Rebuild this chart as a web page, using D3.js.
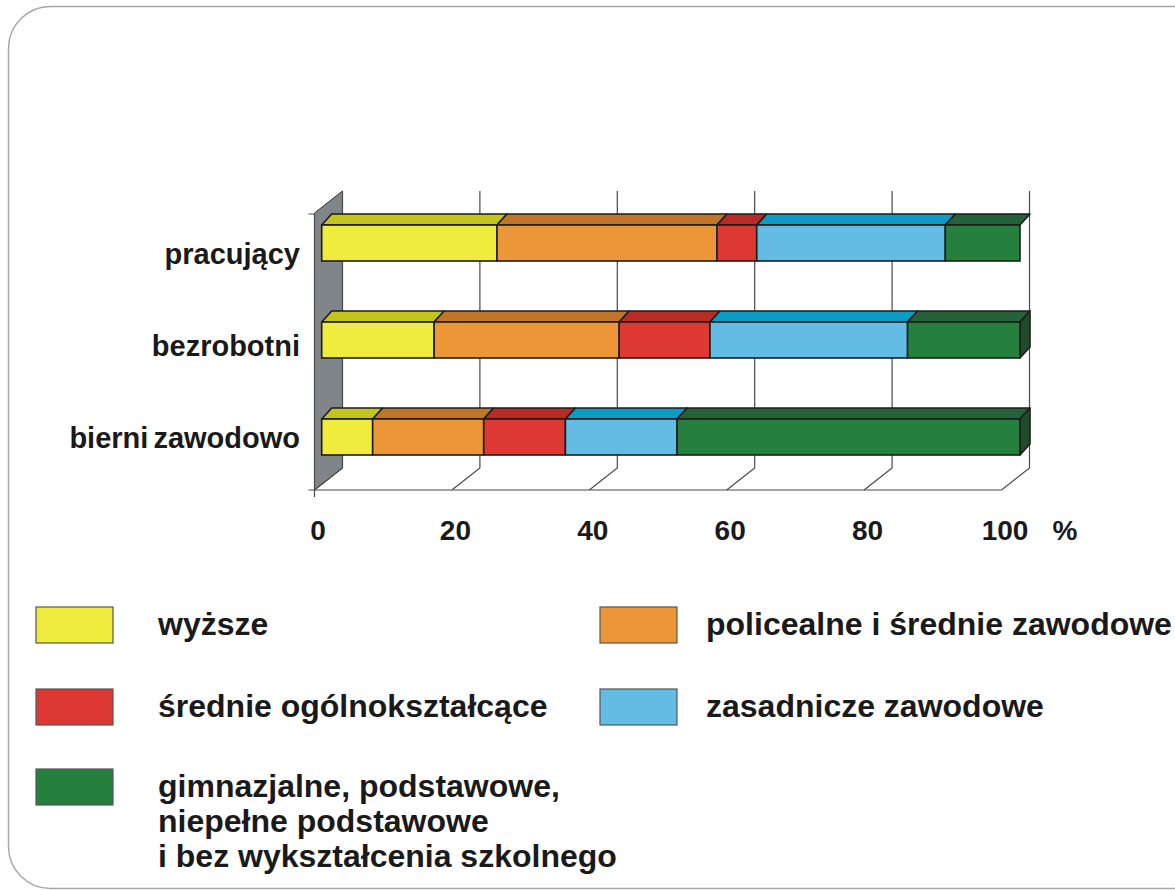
<!DOCTYPE html>
<html>
<head>
<meta charset="utf-8">
<script src="https://cdn.jsdelivr.net/npm/d3@7"></script>
<style>
  body { margin: 0; background: #fff; }
  text { font-family: "Liberation Sans", Arial, sans-serif; font-weight: bold; fill: #1a1a1a; }
</style>
</head>
<body>
<div id="chart"></div>
<script>
// Categories (rows) and education levels (stacked series)
let categories = ['pracujący', 'bezrobotni', 'bierni zawodowo']
let seriesNames = ['wyższe', 'policealne i średnie zawodowe', 'średnie ogólnokształcące', 'zasadnicze zawodowe',
  'gimnazjalne, podstawowe, niepełne podstawowe i bez wykształcenia szkolnego']

// Values in % for each category
let wyzsze = [25.1, 16.1, 7.3]
let policealne = [31.5, 26.5, 15.9]
let srednieOgolne = [5.7, 13.0, 11.7]
let zasadnicze = [27.0, 28.3, 16.0]
let gimnazjalne = [10.7, 16.1, 49.1]

let ticks = [0, 20, 40, 60, 80, 100]

// legend label lines
let legendLines = [
  ['wyższe'],
  ['policealne i średnie zawodowe'],
  ['średnie ogólnokształcące'],
  ['zasadnicze zawodowe'],
  ['gimnazjalne, podstawowe,', 'niepełne podstawowe', 'i bez wykształcenia szkolnego']
]

// front / top / side colors per series
let frontColors = ['#F0EC3E', '#EC9737', '#DD3834', '#62BCE3', '#24803C']
let topColors = ['#C4C41E', '#C07629', '#B92B27', '#0B9BC3', '#25623A']
let sideColors = ['#9E9E18', '#9A5E20', '#93221F', '#08799A', '#244A2E']

let W = 1175, H = 890
let svg = d3.select('#chart').append('svg').attr('width', W).attr('height', H)

// rounded frame
svg.append('rect')
  .attr('x', 8.5).attr('y', 6.5).attr('width', 1220).attr('height', 882)
  .attr('rx', 42).attr('ry', 42)
  .attr('fill', 'none').attr('stroke', '#a8a8a8').attr('stroke-width', 1.5)

// 3D geometry
let depth = {dx: 28, dy: -22}
let frontX = d3.scaleLinear().domain([0, 100]).range([314.5, 1001.5])
let floorY = 490
let topY = 213

// back wall (left side, gray)
svg.append('path')
  .attr('d', `M${frontX(0)},${topY} L${frontX(0) + depth.dx},${topY + depth.dy} L${frontX(0) + depth.dx},${floorY + depth.dy} L${frontX(0)},${floorY} Z`)
  .attr('fill', '#7F8589').attr('stroke', '#333').attr('stroke-width', 1)

// gridlines on back wall + floor diagonals
let grid = svg.append('g')
ticks.forEach(function(t) {
  let fx = frontX(t), bx = fx + depth.dx
  grid.append('path')
    .attr('d', `M${bx},${topY + depth.dy} L${bx},${floorY + depth.dy} L${fx},${floorY}`)
    .attr('fill', 'none').attr('stroke', '#4a4a4a').attr('stroke-width', 1.2)
})

// front axis lines
svg.append('path')
  .attr('d', `M${frontX(0) - 6},${floorY} L${frontX(100)},${floorY}`)
  .attr('stroke', '#4a4a4a').attr('stroke-width', 1.2)
svg.append('path')
  .attr('d', `M${frontX(0)},${topY} L${frontX(0)},${floorY + 7} M${frontX(0) - 6},${topY + 1} L${frontX(0)},${topY + 1}`)
  .attr('stroke', '#4a4a4a').attr('stroke-width', 1.2)

// bars
let barX = d3.scaleLinear().domain([0, 100]).range([321.7, 1020])
let barY = d3.scalePoint().domain(categories).range([243, 437])
let barH = 36
let barD = {dx: 10, dy: -11}

let table = categories.map(function(c, i) {
  let row = {category: c}
  row[seriesNames[0]] = wyzsze[i]
  row[seriesNames[1]] = policealne[i]
  row[seriesNames[2]] = srednieOgolne[i]
  row[seriesNames[3]] = zasadnicze[i]
  row[seriesNames[4]] = gimnazjalne[i]
  return row
})
let stacked = d3.stack().keys(seriesNames)(table)

let bars = svg.append('g')
stacked.forEach(function(layer, si) {
  layer.forEach(function(d, ci) {
    let x0 = barX(d[0]), x1 = barX(d[1])
    let y0 = barY(categories[ci]) - barH / 2, y1 = y0 + barH
    let g = bars.append('g')
    // top face
    g.append('path')
      .attr('d', `M${x0},${y0} L${x0 + barD.dx},${y0 + barD.dy} L${x1 + barD.dx},${y0 + barD.dy} L${x1},${y0} Z`)
      .attr('fill', topColors[si]).attr('stroke', '#1d1d1b').attr('stroke-width', 1.6).attr('stroke-linejoin', 'round')
    // right side face on last segment (the first row has none in the original)
    if (si === seriesNames.length - 1 && ci > 0) {
      g.append('path')
        .attr('d', `M${x1},${y0} L${x1 + barD.dx},${y0 + barD.dy} L${x1 + barD.dx},${y1 + barD.dy} L${x1},${y1} Z`)
        .attr('fill', sideColors[si]).attr('stroke', '#1d1d1b').attr('stroke-width', 1.6).attr('stroke-linejoin', 'round')
    }
    // front face
    g.append('rect')
      .attr('x', x0).attr('y', y0).attr('width', x1 - x0).attr('height', barH)
      .attr('fill', frontColors[si]).attr('stroke', '#1d1d1b').attr('stroke-width', 1.6)
  })
})

// category labels
let labelY = d3.scalePoint().domain(categories).range([264, 448])
svg.append('g').selectAll('text')
  .data(categories)
  .enter().append('text')
  .attr('x', 300).attr('y', d => labelY(d))
  .attr('text-anchor', 'end')
  .style('font-size', '29px')
  .style('word-spacing', '-3px')
  .text(d => d)

// axis labels
let labelX = d3.scaleLinear().domain([0, 100]).range([318, 1005])
svg.append('g').selectAll('text')
  .data(ticks)
  .enter().append('text')
  .attr('x', d => labelX(d)).attr('y', 540)
  .attr('text-anchor', 'middle')
  .style('font-size', '28px')
  .text(d => d)
svg.append('text').attr('x', 1065).attr('y', 540).attr('text-anchor', 'middle')
  .style('font-size', '28px').text('%')

// legend
let swatchX = [36, 600], textX = [158, 706], rowY = [607, 689, 769]
let legend = svg.append('g')
seriesNames.forEach(function(s, i) {
  let col = i % 2, row = Math.floor(i / 2)
  legend.append('rect')
    .attr('x', swatchX[col]).attr('y', rowY[row]).attr('width', 77).attr('height', 36)
    .attr('fill', frontColors[i]).attr('stroke', '#555').attr('stroke-width', 1.2)
  let t = legend.append('text')
    .attr('x', textX[col]).attr('y', rowY[row] + 28)
    .style('font-size', '32px')
  legendLines[i].forEach(function(line, li) {
    t.append('tspan').attr('x', textX[col]).attr('dy', li === 0 ? 0 : 35).text(line)
  })
})
</script>
</body>
</html>
